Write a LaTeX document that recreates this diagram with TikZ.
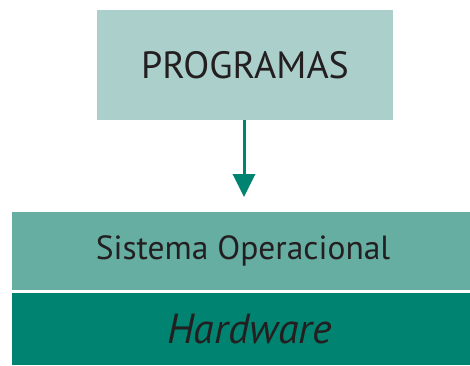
\documentclass[tikz,border=0pt]{standalone}
\usepackage{fontspec}
\setmainfont{PT Sans}
\usepackage{tikz}
\usetikzlibrary{positioning,arrows.meta}
\tikzstyle{layers} = [x = 1pt, y = -1pt]
\definecolor{topColor}{RGB}{171,207,202}
\definecolor{midColor}{RGB}{102,173,162}
\definecolor{baseColor}{RGB}{0,131,112}
\definecolor{textColor}{RGB}{35,31,32}
\tikzstyle{layerBox} = [inner sep = 0pt, outer sep = 0pt, text = textColor, font=\fontsize{38}{40}\selectfont]
\tikzstyle{callArrow} = [draw = baseColor, line width = 3pt, -{Triangle[length = 23pt, width = 22pt]}]
\begin{document}
\begin{tikzpicture}[layers]
  \useasboundingbox (0,0) rectangle (470,365);
  % programas
  \node [layerBox, fill = topColor, minimum width = 296pt, minimum height = 110pt] (programs) at (245,65) {PROGRAMAS};
  % sistema operacional
  \node [layerBox, fill = midColor, minimum width = 458pt, minimum height = 78pt, font=\fontsize{33.5}{36}\selectfont] (system) at (241,251) {\hspace*{4pt}Sistema Operacional};
  % hardware
  \node [layerBox, fill = baseColor, minimum width = 458pt, minimum height = 72pt, font=\fontsize{42}{44}\selectfont\itshape] (hardware) at (241,329) {\hspace*{17pt}Hardware};
  \coordinate (tip) at (244,197);
  \draw [callArrow] (programs.south -| tip) -- (tip);
\end{tikzpicture}
\end{document}
